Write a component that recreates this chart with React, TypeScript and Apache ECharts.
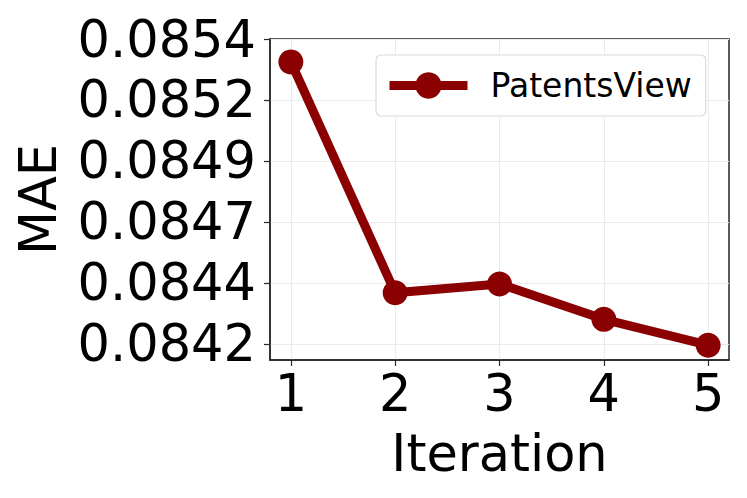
import React, { useEffect, useRef } from "react";
import * as echarts from "echarts";

const iterations = [1, 2, 3, 4, 5];
const maeValues = [0.085356, 0.08441, 0.084446, 0.084301, 0.084195];
const seriesName = "PatentsView";
const yTickValues = [0.0842, 0.08445, 0.0847, 0.08495, 0.0852, 0.08545];
const yTickLabels = ["0.0842", "0.0844", "0.0847", "0.0849", "0.0852", "0.0854"];
const xTickValues = [1, 2, 3, 4, 5];

const FONT = "DejaVu Sans";
const RED = "#8b0000";

export default function App() {
  const ref = useRef<HTMLDivElement>(null);
  useEffect(() => {
    if (!ref.current) return;
    const chart = echarts.init(ref.current, null, { renderer: "svg" });
    chart.setOption({
      animation: false,
      backgroundColor: "#ffffff",
      grid: {
        left: 270,
        top: 39,
        right: 18,
        bottom: 138,
        show: true,
        borderColor: "#262626",
        borderWidth: 1.5,
        backgroundColor: "transparent",
      },
      legend: {
        left: 376,
        top: 55,
        padding: [14, 14, 14, 9],
        backgroundColor: "#ffffff",
        borderColor: "#d9d9d9",
        borderWidth: 1.2,
        borderRadius: 5,
        itemWidth: 78,
        itemHeight: 33,
        itemStyle: { color: RED },
        lineStyle: { color: RED, width: 9 },
        textStyle: {
          fontFamily: FONT,
          fontSize: 33,
          color: "#000",
          padding: [0, 0, 0, 18],
        },
        data: [{ name: seriesName }],
      },
      xAxis: {
        type: "value",
        min: 0.8,
        max: 5.2,
        name: "Iteration",
        nameLocation: "middle",
        nameGap: 68,
        nameTextStyle: { fontFamily: FONT, fontSize: 51, color: "#000" },
        axisLine: { show: true, lineStyle: { color: "#262626", width: 1.5 } },
        axisTick: {
          show: true,
          inside: false,
          length: 6,
          customValues: xTickValues,
          lineStyle: { color: "#262626", width: 1.2 },
        },
        axisLabel: {
          customValues: xTickValues,
          fontFamily: FONT,
          fontSize: 51,
          color: "#000",
          margin: 8,
          formatter: (v: number) => String(v),
        },
        splitLine: { show: true, lineStyle: { color: "#ebebeb", width: 1 } },
      },
      yAxis: {
        type: "value",
        min: 0.0841344,
        max: 0.08545,
        name: "MAE",
        nameLocation: "middle",
        nameRotate: 90,
        nameGap: 206,
        nameTextStyle: { fontFamily: FONT, fontSize: 51, color: "#000" },
        axisLine: { show: true, lineStyle: { color: "#262626", width: 1.5 } },
        axisTick: {
          show: true,
          inside: false,
          length: 6,
          customValues: yTickValues,
          lineStyle: { color: "#262626", width: 1.2 },
        },
        axisLabel: {
          customValues: yTickValues,
          fontFamily: FONT,
          fontSize: 51,
          color: "#000",
          margin: 14,
          formatter: (v: number) => {
            const i = yTickValues.findIndex((t) => Math.abs(t - v) < 1e-9);
            return i >= 0 ? yTickLabels[i] : "";
          },
        },
        splitLine: { show: true, lineStyle: { color: "#ebebeb", width: 1 } },
      },
      series: [
        {
          name: seriesName,
          type: "line",
          data: iterations.map((x, i) => [x, maeValues[i]]),
          symbol: "circle",
          symbolSize: 25,
          itemStyle: { color: RED },
          lineStyle: { color: RED, width: 9 },
          clip: false,
        },
      ],
    });
    return () => chart.dispose();
  }, []);
  return <div ref={ref} style={{ width: 747, height: 498, position: "absolute", left: 0, top: 0 }} />;
}
